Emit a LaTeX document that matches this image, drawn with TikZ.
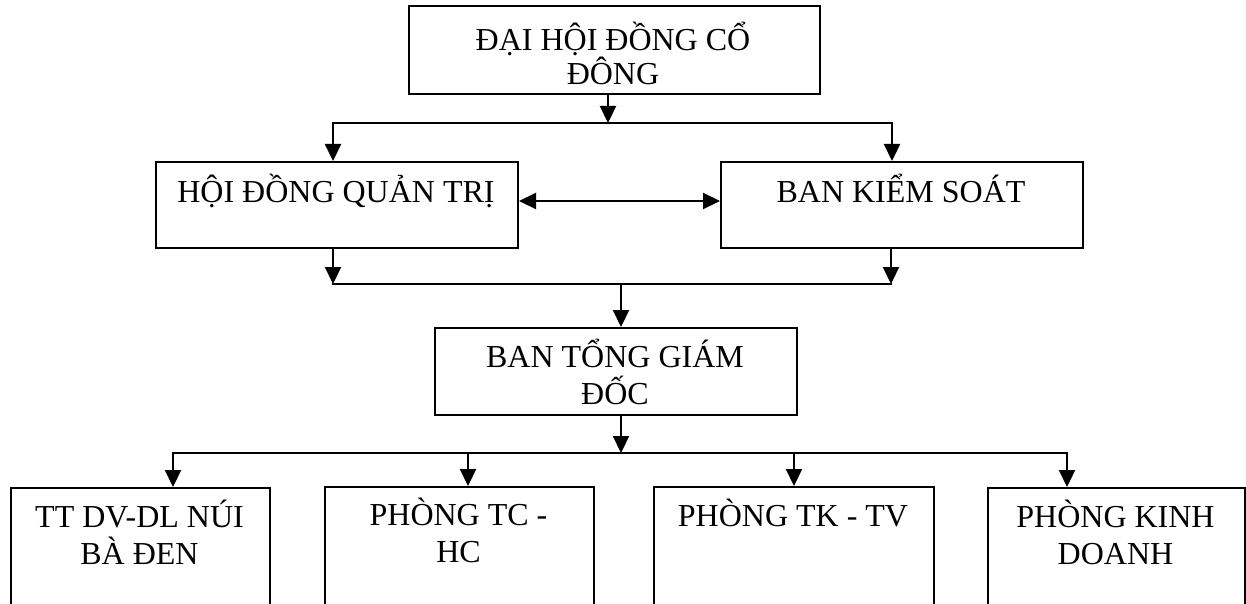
\documentclass[tikz,border=0pt]{standalone}
\usepackage{fontspec}
\setmainfont{Liberation Serif}
\usetikzlibrary{arrows.meta}
\tikzset{
  box/.style={draw, line width=2pt, inner sep=0pt, anchor=north west},
  lbl/.style={anchor=north, inner sep=0pt, align=center, font=\fontsize{32}{37.5}\selectfont},
  conn/.style={line width=2.2pt, line cap=rect},
  arr/.style={line width=2.2pt, -{Triangle[length=17pt,width=16pt]}},
  darr/.style={line width=2.2pt, {Triangle[length=17pt,width=16pt]}-{Triangle[length=17pt,width=16pt]}},
}
\newcommand{\fstrut}{\rule{0pt}{34pt}}
\begin{document}
\begin{tikzpicture}[x=1pt,y=-1pt]
\clip (0,0) rectangle (1246,604);
\fill[white] (0,0) rectangle (1246,604);

% boxes
\node[box, minimum width=411pt, minimum height=88pt] (dhcd) at (408,5) {};
\node[box, minimum width=362pt, minimum height=86pt] (hdqt) at (155,161) {};
\node[box, minimum width=362pt, minimum height=86pt] (bks) at (720,161) {};
\node[box, minimum width=362pt, minimum height=87pt] (btgd) at (434,327) {};
\node[box, minimum width=259pt, minimum height=140pt] (b1) at (10,487) {};
\node[box, minimum width=269pt, minimum height=140pt] (b2) at (324,486) {};
\node[box, minimum width=280pt, minimum height=140pt] (b3) at (653,486) {};
\node[box, minimum width=257pt, minimum height=140pt] (b4) at (987,487) {};

% labels
\node[lbl, font=\fontsize{32}{34}\selectfont] (dhcdT) at (613,16) {\fstrut ĐẠI HỘI ĐỒNG CỔ\\ĐÔNG};
\node[lbl] (hdqtT) at (336,168) {\fstrut HỘI ĐỒNG QUẢN TRỊ};
\node[lbl] (bksT) at (901,168) {\fstrut BAN KIỂM SOÁT};
\node[lbl] (btgdT) at (615,333) {\fstrut BAN TỔNG GIÁM\\ĐỐC};
\node[lbl] (b1T) at (139.5,493) {\fstrut TT DV-DL NÚI\\BÀ ĐEN};
\node[lbl] (b2T) at (458.5,491) {\fstrut PHÒNG TC -\\HC};
\node[lbl] (b3T) at (793,492) {\fstrut PHÒNG TK - TV};
\node[lbl] (b4T) at (1115.5,493) {\fstrut PHÒNG KINH\\DOANH};

% junction coordinates
\coordinate (j1) at (608,123);
\coordinate (j1l) at (333,123);
\coordinate (j1r) at (892,123);
\coordinate (mid) at (0,201);
\coordinate (j2l) at (333,284);
\coordinate (j2r) at (891,284);
\coordinate (j2) at (621,284);
\coordinate (j3) at (621,453);
\coordinate (j3a) at (173,453);
\coordinate (j3b) at (468,453);
\coordinate (j3c) at (794,453);
\coordinate (j3d) at (1067,453);

% connectors
\draw[arr] (dhcd.south -| j1) -- (j1);
\draw[darr] (hdqt.north -| j1l) -- (j1l) -- (j1r) -- (bks.north -| j1r);
\draw[darr] (hdqt.east |- mid) -- (bks.west |- mid);
\draw[arr] (hdqt.south -| j2l) -- (j2l);
\draw[arr] (bks.south -| j2r) -- (j2r);
\draw[conn] (j2l) -- (j2r);
\draw[arr] (j2) -- (btgd.north -| j2);
\draw[arr] (btgd.south -| j3) -- (j3);
\draw[darr] (b1.north -| j3a) -- (j3a) -- (j3d) -- (b4.north -| j3d);
\draw[arr] (j3b) -- (b2.north -| j3b);
\draw[arr] (j3c) -- (b3.north -| j3c);
\end{tikzpicture}
\end{document}
